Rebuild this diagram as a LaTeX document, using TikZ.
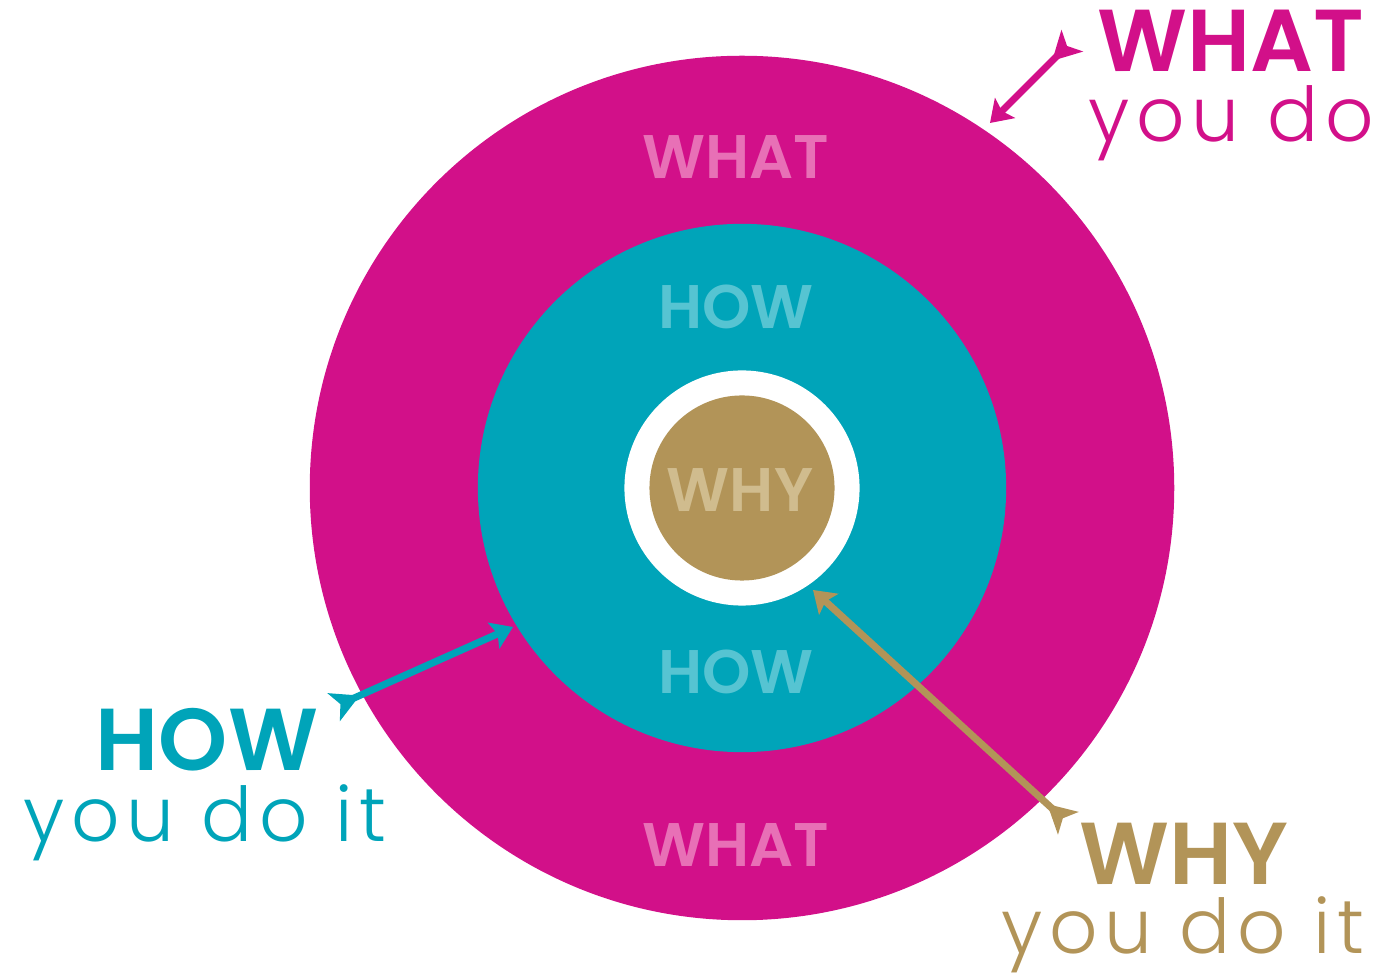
\documentclass[tikz,border=0pt]{standalone}
\usepackage{fontspec}
\usepackage{tikz}
\usetikzlibrary{arrows.meta, positioning}
\newfontfamily\capsfont{Poppins}[BoldFont={* SemiBold}]
\newfontfamily\slabfont{Poppins}[UprightFont={* Light}, LetterSpace=9]
\definecolor{whatpink}{RGB}{210, 16, 137}
\definecolor{howteal}{RGB}{0, 164, 185}
\definecolor{whygold}{RGB}{178, 148, 88}
\definecolor{whatlight}{RGB}{232, 112, 182}
\definecolor{howlight}{RGB}{86, 196, 210}
\definecolor{whylight}{RGB}{208, 188, 142}
\tikzset{
  disc/.style = {circle, inner sep=0pt, minimum size=#1},
  ringlbl/.style = {font=\capsfont\bfseries\fontsize{17.5}{20}\selectfont, text=#1,
    inner sep=0pt},
  bigcaps/.style = {font=\capsfont\bfseries\fontsize{25}{27}\selectfont, text=#1,
    inner sep=0pt},
  smalltxt/.style = {font=\slabfont\fontsize{21.5}{24}\selectfont, text=#1,
    inner sep=0pt, anchor=base},
  featherarr/.style = {
    {Stealth[reversed, length=8pt, width=8.5pt, inset=2pt]}-{Stealth[length=6pt, width=8pt, inset=1.2pt]},
    draw=#1, line width=2pt},
}

\begin{document}
\begin{tikzpicture}[x=0.01cm, y=-0.01cm]
  \useasboundingbox (0,0) rectangle (1382,974);

  % circles
  \node[disc=8.64cm, fill=whatpink] (what) at (742,488) {};
  \node[disc=5.28cm, fill=howteal] (how) at (742,488) {};
  \node[disc=2.35cm, fill=white] (ring) at (742,488) {};
  \node[disc=1.85cm, fill=whygold] (why) at (742,488) {};

  % ring labels
  \node[ringlbl=whatlight] (whattop) at (736,157) {WHAT};
  \node[ringlbl=howlight] (howtop) at (736,307) {HOW};
  \node[ringlbl=whylight] (whyin) at (740,490) {WHY};
  \node[ringlbl=howlight] (howbot) at (736,672) {HOW};
  \node[ringlbl=whatlight] (whatbot) at (736,845) {WHAT};

  % outside labels
  \node[bigcaps=whatpink] (whatlbl) at (1231,41) {WHAT};
  \node[smalltxt=whatpink] (whatsub) at (1231,142) {you do};
  \node[bigcaps=howteal] (howlbl) at (207,740) {HOW};
  \node[smalltxt=howteal] (howsub) at (205,842) {you do it};
  \node[bigcaps=whygold] (whylbl) at (1184,854) {WHY};
  \node[smalltxt=whygold] (whysub) at (1183,954) {you do it};

  % arrow ends
  \coordinate (whattail) at (1072,41);
  \coordinate (whathead) at (990,123);
  \coordinate (howtail) at (334,707);
  \coordinate (howhead) at (513,627);
  \coordinate (whytail) at (1068,823);
  \coordinate (whyhead) at (813,590);

  % Arrows
  \draw[featherarr=whatpink] (whattail) -- (whathead);
  \draw[featherarr=howteal] (howtail) -- (howhead);
  \draw[featherarr=whygold] (whytail) -- (whyhead);

\end{tikzpicture}
\end{document}
